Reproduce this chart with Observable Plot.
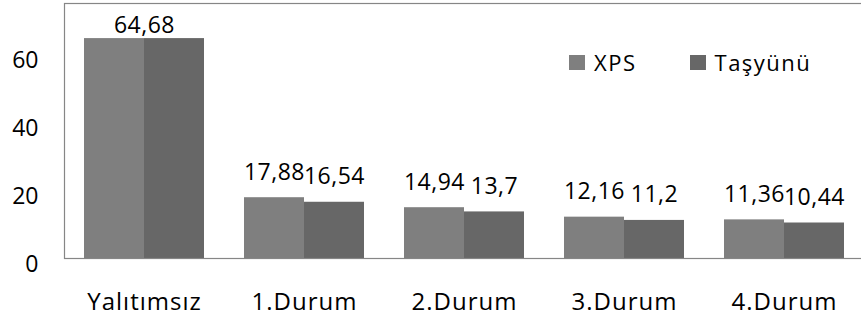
<!DOCTYPE html>
<html>
<head>
<meta charset="utf-8">
<script src="https://cdn.jsdelivr.net/npm/d3@7"></script>
<script src="https://cdn.jsdelivr.net/npm/@observablehq/plot@0.6"></script>
<style>
  html, body { margin: 0; padding: 0; background: #fff; overflow: hidden; }
  #chart { position: relative; width: 861px; height: 322px; font-family: "Open Sans", sans-serif; }
  #chart svg { display: block; }
  #chart g[aria-label="x-axis tick label"] text { letter-spacing: 1px; }
  #chart g.value-labels text { letter-spacing: 0.5px; }
  #legend { position: absolute; left: 569px; top: 47px; width: 290px; }
  #legend > div { margin: 0 !important; min-height: 0 !important; height: 30px; display: flex !important; flex-wrap: nowrap !important; align-items: center; white-space: nowrap; }
  #legend > div > span { display: inline-flex !important; align-items: center; margin-right: 53px !important; letter-spacing: 1.5px; }
  #legend > div > span > svg { margin-right: 9px !important; }
</style>
</head>
<body>
<div id="chart"><div id="legend"></div></div>
<script>
// Heat loss by insulation case, for two insulation materials
const categories = ["Yalıtımsız", "1.Durum", "2.Durum", "3.Durum", "4.Durum"];
const series = ["XPS", "Taşyünü"];
const xpsValues = [64.68, 17.88, 14.94, 12.16, 11.36];
const tasyunuValues = [64.68, 16.54, 13.7, 11.2, 10.44];
const yTicks = [0, 20, 40, 60];
const seriesColors = ["#7f7f7f", "#676767"];

const rows = categories.map((category, i) => ({
  category,
  XPS: xpsValues[i],
  "Taşyünü": tasyunuValues[i]
}));

const fmt = (v) => String(v).replace(".", ",");
const same = rows.filter((d) => d.XPS === d["Taşyünü"]);
const differ = rows.filter((d) => d.XPS !== d["Taşyünü"]);

const chart = Plot.plot({
  width: 861,
  height: 322,
  marginLeft: 64,
  marginRight: -3,
  marginTop: 3,
  marginBottom: 64,
  style: { fontFamily: "Open Sans, sans-serif", fontSize: "23px", color: "#000", background: "#fff", overflow: "hidden" },
  x: { domain: categories, paddingInner: 0.25, paddingOuter: 0.125, label: null },
  y: { domain: [0, 75], label: null },
  marks: [
    Plot.barY(rows, { x: "category", y: "XPS", fill: seriesColors[0], insetRight: 60 }),
    Plot.barY(rows, { x: "category", y: "Taşyünü", fill: seriesColors[1], insetLeft: 60 }),
    Plot.frame({ stroke: "#868686", strokeWidth: 1.2 }),
    Plot.text(differ, { x: "category", y: "XPS", text: (d) => fmt(d.XPS), dx: -30, dy: -18, lineAnchor: "bottom", fontSize: 23, className: "value-labels" }),
    Plot.text(differ, { x: "category", y: "Taşyünü", text: (d) => fmt(d["Taşyünü"]), dx: 30, dy: -18, lineAnchor: "bottom", fontSize: 23, className: "value-labels" }),
    Plot.text(same, { x: "category", y: "XPS", text: (d) => fmt(d.XPS), dy: -6, lineAnchor: "bottom", fontSize: 23, className: "value-labels" }),
    Plot.axisY({ ticks: yTicks, tickSize: 0, tickPadding: 26, dy: 6, fontSize: 23, label: null }),
    Plot.axisX({ tickSize: 0, tickPadding: 34, fontSize: 24, label: null })
  ]
});
document.getElementById("chart").prepend(chart);

const legend = Plot.legend({
  color: { type: "ordinal", domain: series, range: seriesColors },
  swatchWidth: 16,
  swatchHeight: 15,
  style: { fontFamily: "Open Sans, sans-serif", fontSize: "22px", color: "#000" }
});
document.getElementById("legend").appendChild(legend);
</script>
</body>
</html>
